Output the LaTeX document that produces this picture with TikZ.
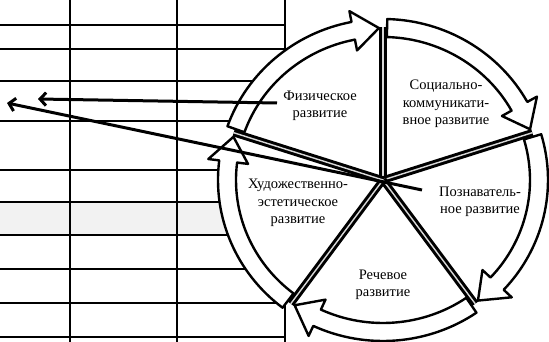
\documentclass[tikz,border=0pt]{standalone}
\usepackage{fontspec}
\setmainfont{Liberation Serif}
\usetikzlibrary{arrows.meta}
\begin{document}
\begin{tikzpicture}[x=1pt,y=1pt,line join=round,
  grid/.style={line width=1.8pt},
  ringarrow/.style={draw,fill=white,line width=2.4pt},
  spoke/.style={line width=3pt,double=gray!30,double distance=1.4pt},
  pointer/.style={line width=3pt,-{Straight Barb[length=6pt,width=13pt,line width=3pt]}},
  label/.style={align=center,font=\fontsize{14.5}{17.5}\selectfont,inner sep=0pt}]
\useasboundingbox (0,0) rectangle (549,342);
% table
\fill[gray!10] (0,107) rectangle (285,140);
\foreach \y in {5,39,73,107,140,172,221,261,293,317} \draw[grid] (0,\y)--(285,\y);
\foreach \x in {70,177,285} \draw[grid] (\x,0)--(\x,342);
% circle
\begin{scope}[shift={(383,162)}]
  \fill[white] (0,0) ellipse[x radius=147, y radius=143];
  \foreach \a in {162,90,18,-54,-126} {
    \pgfmathsetmacro\s{\a-1.5}
    \pgfmathsetmacro\b{\a-61}
    \pgfmathsetmacro\t{\a-70.5}
    \draw[ringarrow] (\s:165 and 161) arc[start angle=\s,end angle=\b,x radius=165,y radius=161]
      -- (\b:176 and 172) -- (\t:156 and 152) -- (\b:136 and 132) -- (\b:147 and 143)
      arc[start angle=\b,end angle=\s,x radius=147,y radius=143] -- cycle;
  }
  \coordinate (c) at (0,0);
  \foreach \a in {90,18,-54,-126,162} \draw[spoke] (c) -- (\a:157 and 153);
\end{scope}
% labels
\node[label] (fiz) at (320,236) {Физическое\\развитие};
\node[label] (soc) at (446,238) {Социально-\\коммуникати-\\вное развитие};
\node[label] (pozn) at (480,140) {Познаватель-\\ное развитие};
\node[label] (hud) at (298,139) {Художественно-\\эстетическое\\развитие};
\node[label] (rech) at (383,57) {Речевое\\развитие};
% pointers
\coordinate (p1) at (277,239);
\coordinate (q1) at (38,243);
\coordinate (p2) at (422,152);
\coordinate (q2) at (7,239);
\draw[pointer] (p1) -- (q1);
\draw[pointer] (p2) -- (q2);
\end{tikzpicture}
\end{document}
